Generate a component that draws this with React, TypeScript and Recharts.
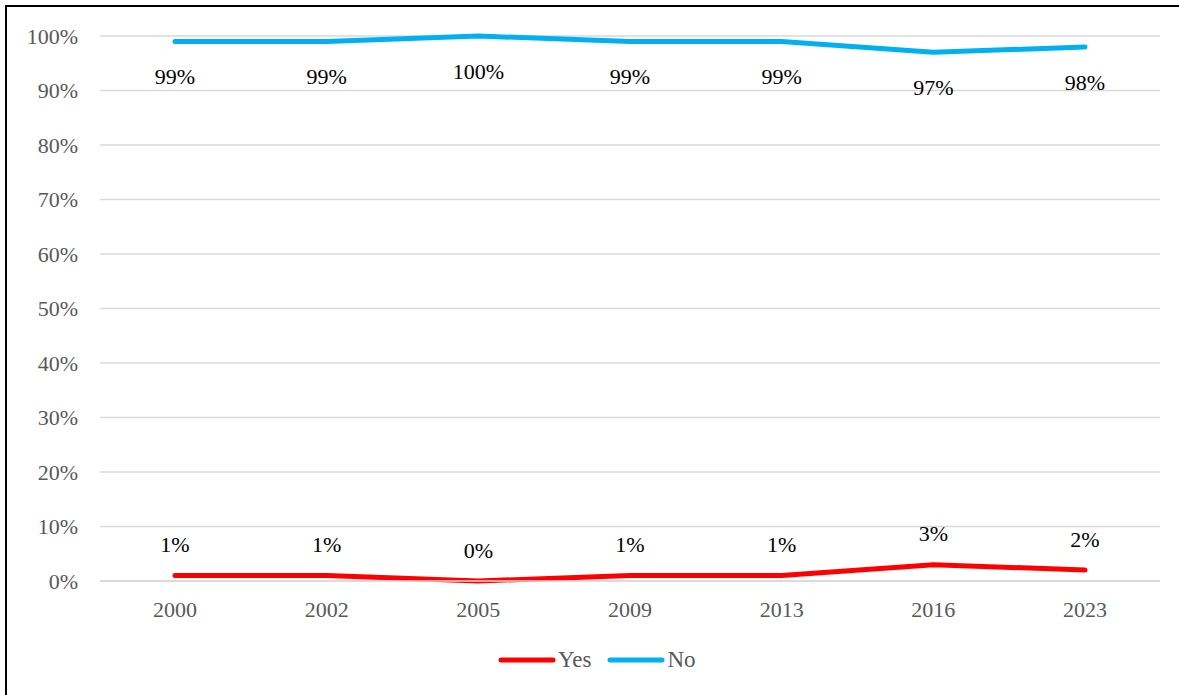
import { LineChart, Line, XAxis, YAxis, CartesianGrid, Legend, LabelList } from "recharts";

const years = ["2000", "2002", "2005", "2009", "2013", "2016", "2023"];
const yesValues = [1, 1, 0, 1, 1, 3, 2];
const noValues = [99, 99, 100, 99, 99, 97, 98];
const yTicks = [0, 10, 20, 30, 40, 50, 60, 70, 80, 90, 100];

const data = years.map((year, i) => ({
  year,
  Yes: yesValues[i],
  No: noValues[i],
}));

const FONT = "Liberation Serif";
const RED = "#FF0000";
const BLUE = "#00B0F0";

function makeLabel(offset: number) {
  return (props: any) => {
    const { x, y, value } = props;
    return (
      <text
        x={x}
        y={Number(y) + offset}
        dy="0.355em"
        textAnchor="middle"
        fontFamily={FONT}
        fontSize={22}
        fill="#000"
      >
        {value}%
      </text>
    );
  };
}

function LegendContent() {
  const items = [
    { name: "Yes", color: RED },
    { name: "No", color: BLUE },
  ];
  return (
    <div style={{ display: "flex", alignItems: "center", fontFamily: FONT, fontSize: 23, color: "#595959" }}>
      {items.map((it, i) => (
        <div key={it.name} style={{ display: "flex", alignItems: "center", marginLeft: i ? 16 : 0 }}>
          <svg width={58} height={8}>
            <line x1={3} y1={4} x2={55} y2={4} stroke={it.color} strokeWidth={5} strokeLinecap="round" />
          </svg>
          <span style={{ marginLeft: 2 }}>{it.name}</span>
        </div>
      ))}
    </div>
  );
}

export default function App() {
  return (
    <div style={{ position: "fixed", left: 0, top: 0, width: 1179, height: 695, overflow: "hidden", background: "#fff", fontFamily: FONT }}>
      <div
        style={{
          position: "absolute",
          left: 5,
          top: 5,
          width: 1220,
          height: 740,
          borderLeft: "2px solid #000",
          borderTop: "2px solid #000",
        }}
      />
      <div style={{ position: "absolute", left: 0, top: 0 }}>
        <LineChart
          width={1179}
          height={695}
          data={data}
          margin={{ top: 36, right: 19, bottom: 0, left: 0 }}
          style={{ fontFamily: FONT }}
        >
          <CartesianGrid vertical={false} stroke="#D9D9D9" strokeWidth={1.5} />
          <XAxis
            dataKey="year"
            padding={{ left: 75, right: 75 }}
            axisLine={{ stroke: "#D9D9D9", strokeWidth: 1.5 }}
            tickLine={false}
            tickSize={0}
            tickMargin={20}
            height={114}
            tick={{ fill: "#595959", fontFamily: FONT, fontSize: 22 }}
          />
          <YAxis
            domain={[0, 100]}
            ticks={yTicks}
            width={100}
            axisLine={false}
            tickLine={false}
            tickSize={0}
            tickMargin={22}
            tickFormatter={(v: number) => `${v}%`}
            tick={{ fill: "#595959", fontFamily: FONT, fontSize: 22 }}
          />
          <Legend
            layout="horizontal"
            verticalAlign="middle"
            align="center"
            content={() => <LegendContent />}
            wrapperStyle={{ left: 498, top: 647, width: "auto" }}
          />
          <Line
            dataKey="Yes"
            stroke={RED}
            strokeWidth={5}
            strokeLinecap="round"
            dot={false}
            activeDot={false}
            isAnimationActive={false}
          >
            <LabelList dataKey="Yes" content={makeLabel(-31)} />
          </Line>
          <Line
            dataKey="No"
            stroke={BLUE}
            strokeWidth={5}
            strokeLinecap="round"
            dot={false}
            activeDot={false}
            isAnimationActive={false}
          >
            <LabelList dataKey="No" content={makeLabel(35)} />
          </Line>
        </LineChart>
      </div>
    </div>
  );
}
